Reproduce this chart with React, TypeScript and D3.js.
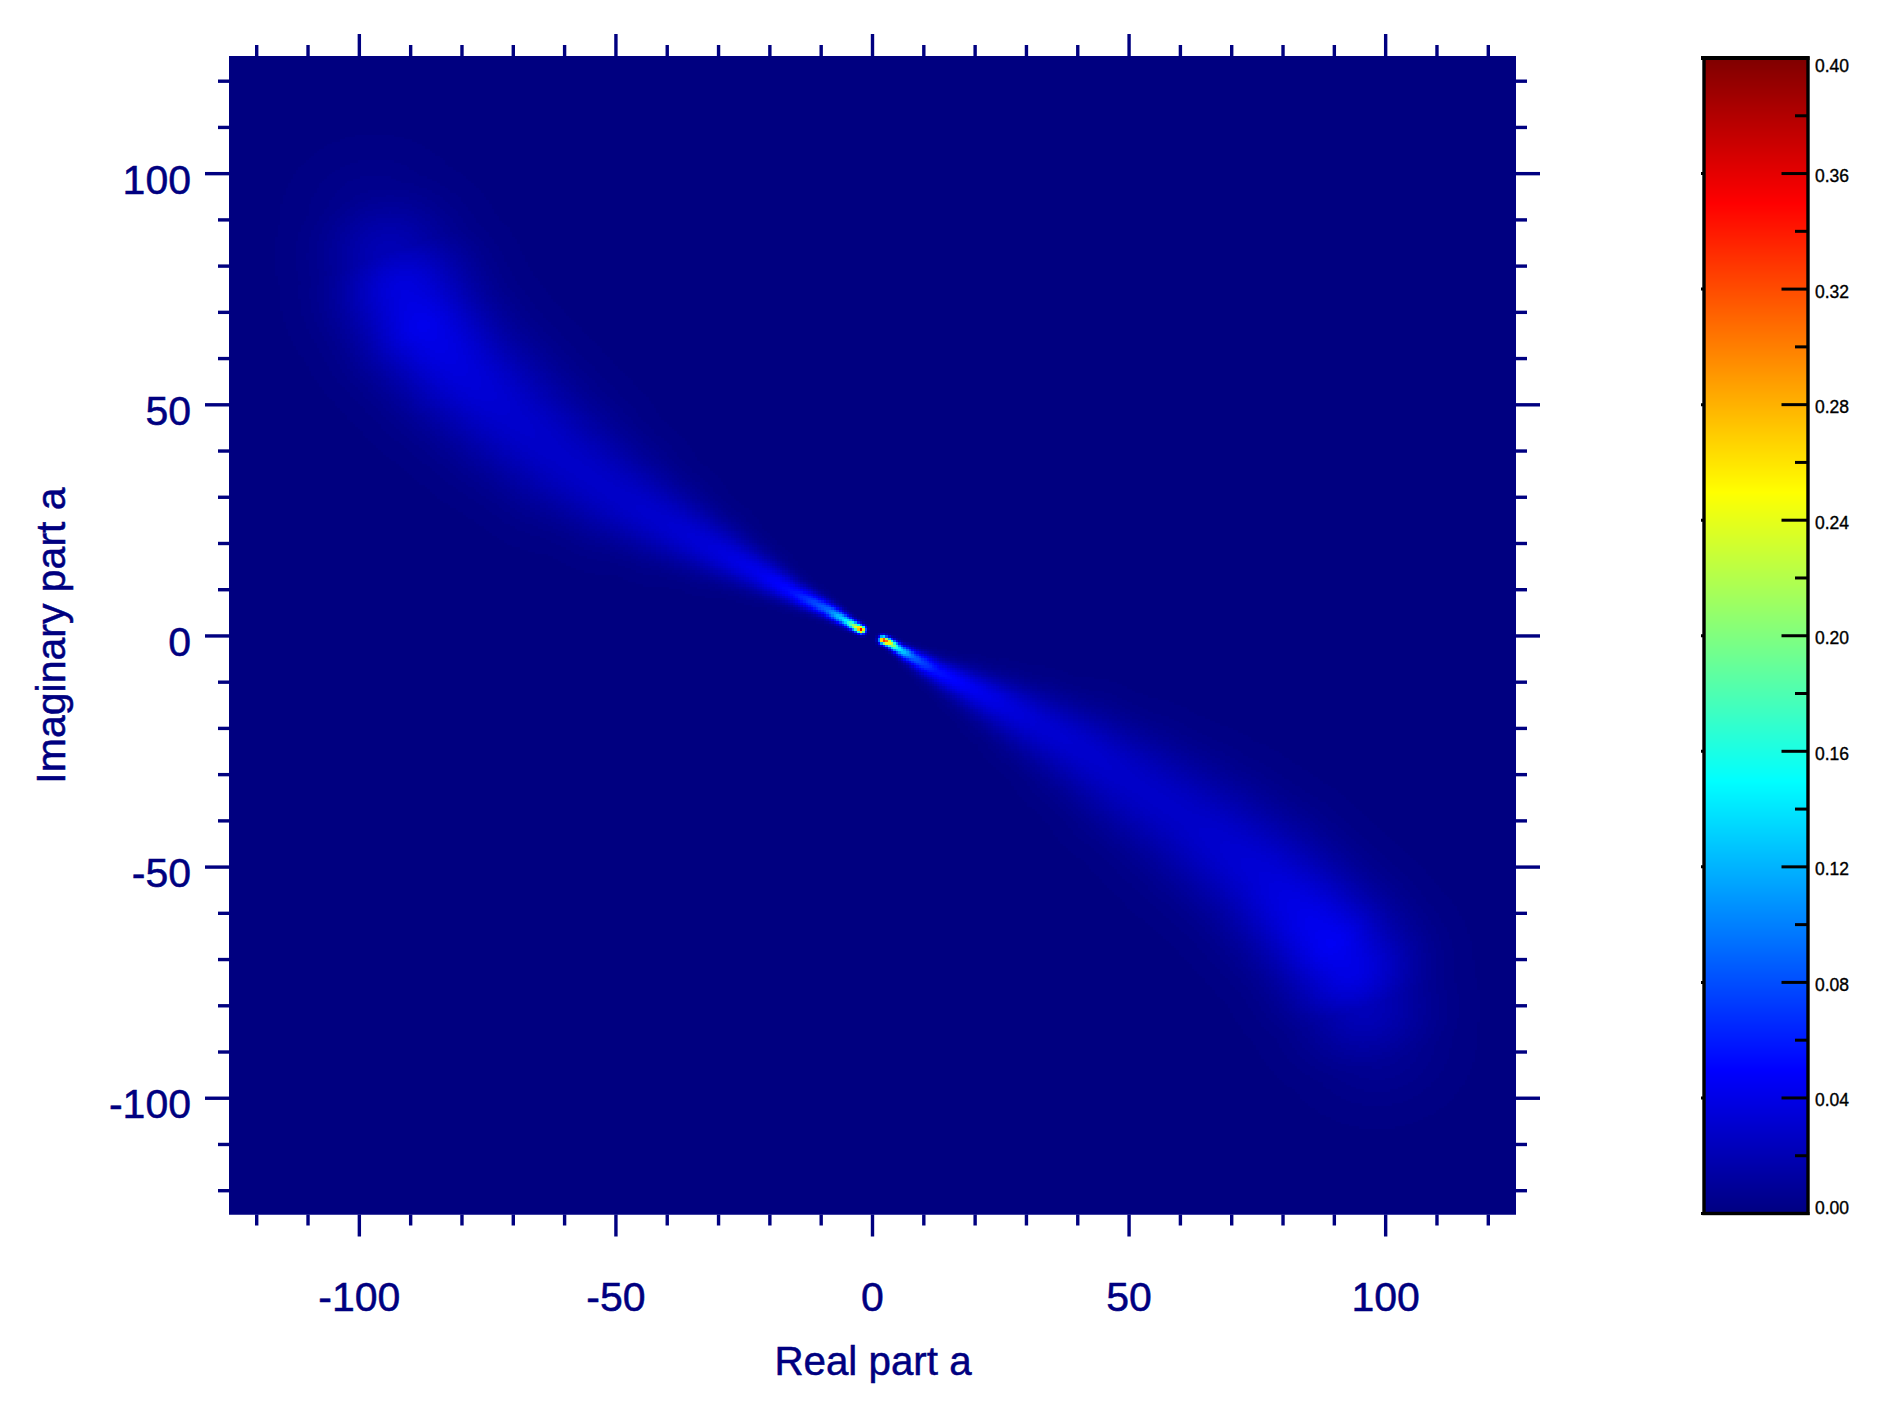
import React, { useEffect, useRef, useState } from "react";
import * as d3 from "d3";

const width = 1896;
const height = 1401;
const navy = "#000080";
const fontFamily = "'Liberation Sans', Arial, sans-serif";

// axis ticks
const majorTicks = [-100, -50, 0, 50, 100];
const minorTicks = [
  -120, -110, -90, -80, -70, -60, -40, -30, -20, -10, 10, 20, 30, 40, 60, 70, 80, 90, 110, 120,
];
const barMajor = [0, 0.04, 0.08, 0.12, 0.16, 0.2, 0.24, 0.28, 0.32, 0.36, 0.4];
const barMinor = [0.02, 0.06, 0.1, 0.14, 0.18, 0.22, 0.26, 0.3, 0.34, 0.38];

// colour table of the bar
const jetValues = [0, 0.05, 0.15, 0.25, 0.35, 0.4];
const jetColors = ["#000080", "#0000ff", "#00ffff", "#ffff00", "#ff0000", "#800000"];

// upper left arm, read along the ridge from the tip outwards
const upperRe = [-2.2, -3, -5, -8.9, -15.5, -22, -31.7, -41.4, -51, -61, -70, -80.4, -87.6, -91, -94, -97];
const upperIm = [1.2, 1.7, 3, 5.6, 9.3, 13.4, 19.2, 25, 31.2, 38.7, 47, 57.6, 66.9, 74, 82, 90];
const upperPeak = [0.36, 0.25, 0.15, 0.09, 0.055, 0.042, 0.034, 0.03, 0.028, 0.028, 0.03, 0.036, 0.042, 0.037, 0.021, 0.007];
const upperSigma = [0.55, 0.6, 0.75, 1.1, 1.7, 2.6, 4, 5.4, 6.8, 8, 8.4, 8.5, 8.5, 8.8, 8.8, 8.8];

// lower right arm
const lowerRe = [2.1, 3.4, 5, 7.9, 12.5, 19, 25.5, 32, 41.8, 51.6, 61.3, 66.4, 76.2, 85.3, 89.2, 92.5, 95.7, 98.3];
const lowerIm = [-1, -1.7, -2.9, -4.8, -7.8, -11.4, -15.2, -19.2, -25.4, -32.6, -39.7, -43.8, -52, -62, -66.5, -71.6, -80.2, -87.4];
const lowerPeak = [0.36, 0.25, 0.15, 0.09, 0.056, 0.045, 0.037, 0.032, 0.03, 0.028, 0.028, 0.03, 0.034, 0.042, 0.045, 0.04, 0.022, 0.009];
const lowerSigma = [0.55, 0.6, 0.75, 1.1, 1.7, 2.6, 3.6, 4.6, 6, 7.2, 8, 8.3, 8.5, 8.5, 8.5, 8.8, 8.8, 8.8];

const plotLeft = 229;
const plotTop = 56;
const plotWidth = 1287;
const plotHeight = 1158.5;

const xScale = d3.scaleLinear().domain([-125.4, 125.4]).range([plotLeft, plotLeft + plotWidth]);
const yScale = d3.scaleLinear().domain([-125.3, 125.3]).range([1215.2, 56.7]);
const barScale = d3.scaleLinear().domain([0, 0.4]).range([1213.5, 58]);
const jet = d3.scaleLinear<string>().domain(jetValues).range(jetColors).clamp(true);

function armValue(re: number, im: number, rs: number[], is: number[], ps: number[], ss: number[]) {
  let best = 0;
  for (let k = 0; k < rs.length - 1; k++) {
    const dx = rs[k + 1] - rs[k];
    const dy = is[k + 1] - is[k];
    const t = Math.max(0, Math.min(1, ((re - rs[k]) * dx + (im - is[k]) * dy) / (dx * dx + dy * dy)));
    const ex = re - (rs[k] + t * dx);
    const ey = im - (is[k] + t * dy);
    const s = ss[k] + t * (ss[k + 1] - ss[k]);
    const p = ps[k] + t * (ps[k + 1] - ps[k]);
    const v = p * Math.exp(-(ex * ex + ey * ey) / (2 * s * s));
    if (v > best) best = v;
  }
  return best;
}

// the map itself, half unit cells
function renderMap() {
  const n = 500;
  const canvas = document.createElement("canvas");
  canvas.width = n;
  canvas.height = n;
  const ctx = canvas.getContext("2d")!;
  const img = ctx.createImageData(n, n);
  const cols = d3.range(0, 256).map((i) => d3.rgb(jet((i / 255) * 0.4)));
  const toRe = d3.scaleLinear().domain([0, n]).range(xScale.domain());
  const toIm = d3.scaleLinear().domain([0, n]).range(yScale.domain().slice().reverse());
  for (let j = 0; j < n; j++) {
    const im = toIm(j + 0.5);
    for (let i = 0; i < n; i++) {
      const re = toRe(i + 0.5);
      const v = Math.max(
        armValue(re, im, upperRe, upperIm, upperPeak, upperSigma),
        armValue(re, im, lowerRe, lowerIm, lowerPeak, lowerSigma)
      );
      const c = cols[Math.min(255, Math.round((v / 0.4) * 255))];
      const o = (j * n + i) * 4;
      img.data[o] = c.r;
      img.data[o + 1] = c.g;
      img.data[o + 2] = c.b;
      img.data[o + 3] = 255;
    }
  }
  ctx.putImageData(img, 0, 0);
  return canvas.toDataURL();
}

const App = () => {
  const container = useRef<SVGSVGElement>(null);
  const [href, setHref] = useState("");

  useEffect(() => {
    setHref(renderMap());

    const svg = d3.select(container.current);
    svg.selectAll(".ax").remove();

    const place = (axis: any, x: number, y: number) =>
      svg
        .append("g")
        .attr("class", "ax")
        .attr("transform", `translate(${x},${y})`)
        .call(axis.offset(0))
        .call((g: any) => g.select(".domain").remove())
        .call((g: any) => g.selectAll("line").attr("stroke", navy).attr("stroke-width", 3.4));

    const noLabel = (a: any) => a.tickFormat(() => "").tickSizeOuter(0);

    const styleLabels = (sel: any) =>
      sel
        .attr("fill", navy)
        .attr("stroke", navy)
        .attr("stroke-width", 0.5)
        .style("font-family", fontFamily)
        .style("font-size", "41px");

    // bottom
    styleLabels(
      place(d3.axisBottom(xScale).tickValues(majorTicks).tickSize(22).tickSizeOuter(0).tickFormat((d) => String(d)), 0, 1214.5)
        .selectAll("text")
        .attr("y", 96)
        .attr("dy", 0)
    );
    place(noLabel(d3.axisBottom(xScale).tickValues(minorTicks).tickSize(11)), 0, 1214.5);

    // top
    place(noLabel(d3.axisTop(xScale).tickValues(majorTicks).tickSize(22)), 0, 56);
    place(noLabel(d3.axisTop(xScale).tickValues(minorTicks).tickSize(11)), 0, 56);

    // left
    styleLabels(
      place(d3.axisLeft(yScale).tickValues(majorTicks).tickSize(24).tickSizeOuter(0).tickFormat((d) => String(d)), 229, 0)
        .selectAll("text")
        .attr("x", -38)
        .attr("dy", 20)
    );
    place(noLabel(d3.axisLeft(yScale).tickValues(minorTicks).tickSize(11)), 229, 0);

    // right
    place(noLabel(d3.axisRight(yScale).tickValues(majorTicks).tickSize(24)), 1516, 0);
    place(noLabel(d3.axisRight(yScale).tickValues(minorTicks).tickSize(11)), 1516, 0);
  }, []);

  const barCells = d3.range(0, 1156).map((i) => barScale.invert(1213.5 - i));

  const labelOffset = (d: number) => (d === 0.4 ? 14 : d === 0 ? 0.5 : 8.5);

  return (
    <div style={{ position: "absolute", left: 0, top: 0, width, height, background: "#fff" }}>
      <svg ref={container} width={width} height={height} style={{ display: "block" }}>
        <rect x={plotLeft} y={plotTop} width={plotWidth} height={plotHeight} fill={navy} />
        {href && (
          <image
            href={href}
            x={plotLeft}
            y={plotTop}
            width={plotWidth}
            height={plotHeight}
            preserveAspectRatio="none"
            style={{ imageRendering: "pixelated" }}
          />
        )}

        <text x={873} y={1375} textAnchor="middle" fill={navy} stroke={navy} strokeWidth={0.5} fontFamily={fontFamily} fontSize={40.3}>
          Real part a
        </text>
        <text
          transform="translate(65,635.5) rotate(-90)"
          textAnchor="middle"
          fill={navy}
          stroke={navy}
          strokeWidth={0.5}
          fontFamily={fontFamily}
          fontSize={41}
        >
          Imaginary part a
        </text>

        {/* colour bar */}
        <g>
          <g shapeRendering="crispEdges">
            {barCells.map((v, i) => (
              <rect key={i} x={1704} y={barScale(v) - 1} width={104} height={2} fill={jet(v)} />
            ))}
          </g>
          {barMajor.map((d) => (
            <g key={d}>
              <line x1={1781.5} x2={1807} y1={barScale(d)} y2={barScale(d)} stroke="#000" strokeWidth={3} />
              <line x1={1701} x2={1703} y1={barScale(d)} y2={barScale(d)} stroke="#000" strokeWidth={3} />
              <text
                x={1815}
                y={barScale(d) + labelOffset(d)}
                fill="#000"
                stroke="#000"
                strokeWidth={0.35}
                fontFamily={fontFamily}
                fontSize={17.5}
              >
                {d.toFixed(2)}
              </text>
            </g>
          ))}
          {barMinor.map((d) => (
            <line key={d} x1={1795} x2={1807} y1={barScale(d)} y2={barScale(d)} stroke="#000" strokeWidth={3} />
          ))}
          <rect x={1704} y={58} width={104} height={1155.5} fill="none" stroke="#000" strokeWidth={3.4} />
          <line x1={1701} x2={1809.5} y1={58} y2={58} stroke="#000" strokeWidth={4} />
          <line x1={1701} x2={1809.5} y1={1213.5} y2={1213.5} stroke="#000" strokeWidth={3} />
        </g>
      </svg>
    </div>
  );
};

export default App;
